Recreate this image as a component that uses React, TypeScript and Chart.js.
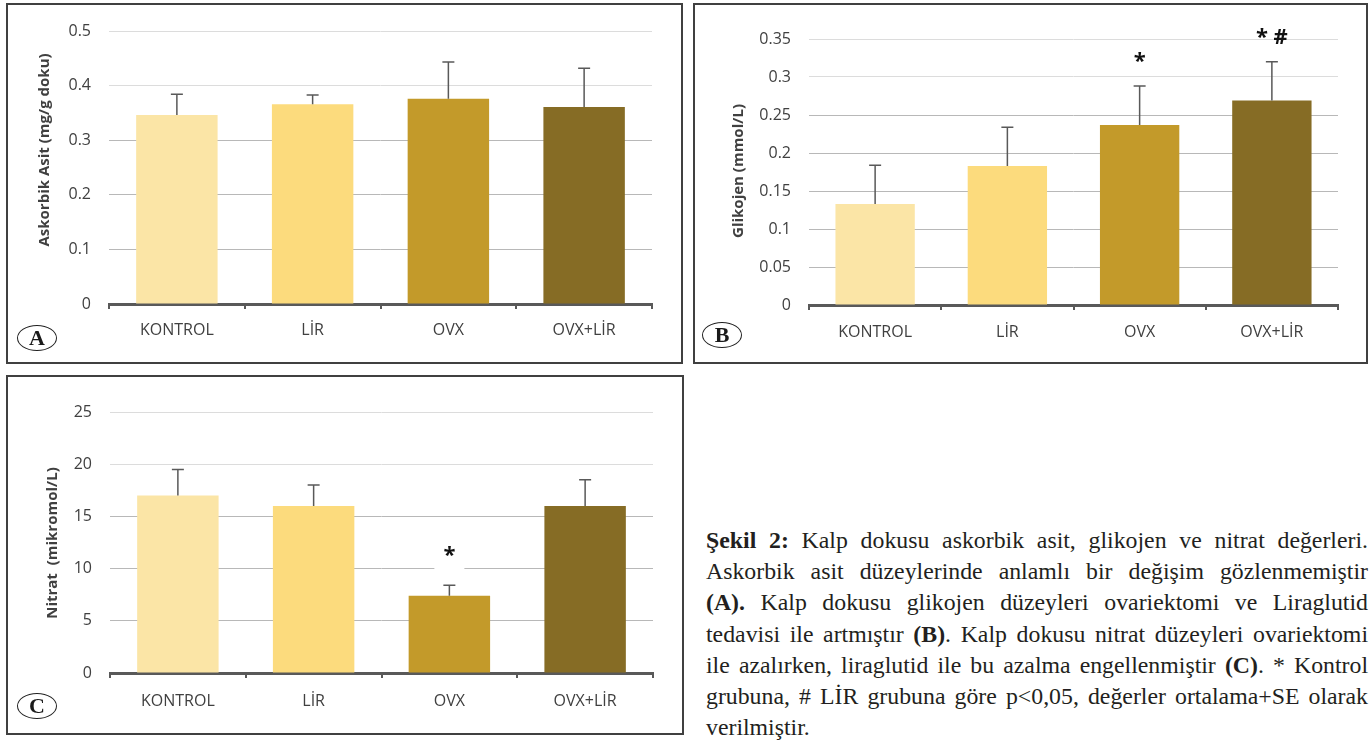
import React, { useEffect, useRef } from 'react';
import { Chart, registerables } from 'chart.js';

Chart.register(...registerables);

// ---------- data ----------
const categories = ['KONTROL', 'LİR', 'OVX', 'OVX+LİR'];
const barColors = ['#FBE5A6', '#FCDB7D', '#C39A2A', '#866C25'];

const askorbikMeans = [0.346, 0.366, 0.376, 0.361];
const askorbikSE = [0.038, 0.017, 0.067, 0.071];
const askorbikTicks = ['0', '0.1', '0.2', '0.3', '0.4', '0.5'];
const askorbikMarks = ['', '', '', ''];

const glikojenMeans = [0.133, 0.183, 0.237, 0.269];
const glikojenSE = [0.051, 0.051, 0.051, 0.051];
const glikojenTicks = ['0', '0.05', '0.1', '0.15', '0.2', '0.25', '0.3', '0.35'];
const glikojenMarks = ['', '', '*', '* #'];

const nitratMeans = [17, 16, 7.4, 16];
const nitratSE = [2.5, 2.0, 1.0, 2.5];
const nitratTicks = ['0', '5', '10', '15', '20', '25'];
const nitratMarks = ['', '', '*', ''];

const FONT = '"Open Sans", "Noto Sans", sans-serif';

// ---------- plugins ----------
const errorBarPlugin = {
  id: 'errorBars',
  afterDatasetsDraw(chart: any, _args: any, opts: any) {
    const { ctx } = chart;
    const meta = chart.getDatasetMeta(0);
    const y = chart.scales.y;
    const data = chart.data.datasets[0].data;
    ctx.save();
    ctx.strokeStyle = opts.color;
    ctx.lineWidth = opts.lineWidth;
    meta.data.forEach((bar: any, i: number) => {
      const top = y.getPixelForValue(data[i] + opts.errors[i]);
      ctx.beginPath();
      ctx.moveTo(bar.x, bar.y);
      ctx.lineTo(bar.x, top);
      ctx.moveTo(bar.x - opts.cap, top);
      ctx.lineTo(bar.x + opts.cap, top);
      ctx.stroke();
    });
    ctx.restore();
  },
};

const marksPlugin = {
  id: 'sigMarks',
  afterDatasetsDraw(chart: any, _args: any, opts: any) {
    const { ctx } = chart;
    const meta = chart.getDatasetMeta(0);
    const y = chart.scales.y;
    const data = chart.data.datasets[0].data;
    ctx.save();
    ctx.font = `bold ${opts.size}px ${FONT}`;
    ctx.textAlign = 'center';
    ctx.textBaseline = 'alphabetic';
    meta.data.forEach((bar: any, i: number) => {
      const txt = opts.marks[i];
      if (!txt) return;
      const base = y.getPixelForValue(data[i] + opts.errors[i]) - opts.gap;
      if (opts.bg) {
        const w = ctx.measureText(txt).width;
        ctx.fillStyle = '#ffffff';
        ctx.fillRect(bar.x - w / 2 - 9, base - 22, w + 18, 32);
      }
      ctx.fillStyle = '#111111';
      ctx.fillText(txt, bar.x, base);
    });
    ctx.restore();
  },
};

const yTitlePlugin = {
  id: 'yTitle',
  afterDraw(chart: any, _args: any, opts: any) {
    const { ctx } = chart;
    ctx.save();
    ctx.translate(opts.x, opts.y);
    ctx.rotate(-Math.PI / 2);
    ctx.font = `bold 15px ${FONT}`;
    ctx.fillStyle = '#404040';
    ctx.textAlign = 'center';
    ctx.textBaseline = 'middle';
    ctx.fillText(opts.text, 0, 0);
    ctx.restore();
  },
};

type PanelProps = {
  left: number; top: number; width: number; height: number;
  plotLeft: number; plotRight: number; plotTop: number; plotBottom: number;
  means: number[]; errors: number[]; tickLabels: string[]; max: number; step: number;
  marks: string[]; markGap: number; markBg: boolean; xPad: number;
  title: string; titleX: number; titleY: number;
  letter: string; letterX: number; letterY: number;
};

function BarPanel(p: PanelProps) {
  const ref = useRef<HTMLCanvasElement | null>(null);
  useEffect(() => {
    if (!ref.current) return;
    const yW = p.plotLeft - p.left;
    const xH = p.height - (p.plotBottom - p.top);
    const padTop = p.plotTop - p.top;
    const padRight = p.left + p.width - p.plotRight;
    const nTicks = p.tickLabels.length;
    const chart = new Chart(ref.current, {
      type: 'bar',
      data: {
        labels: categories,
        datasets: [
          {
            data: p.means,
            backgroundColor: barColors,
            borderWidth: 0,
            barPercentage: 0.6,
            categoryPercentage: 1.0,
          },
        ],
      },
      options: {
        animation: false,
        responsive: false,
        maintainAspectRatio: false,
        layout: { padding: { left: 0, top: padTop, right: padRight, bottom: 0 } },
        plugins: {
          legend: { display: false },
          tooltip: { enabled: false },
          errorBars: { errors: p.errors, color: '#595959', lineWidth: 1.5, cap: 6 },
          sigMarks: { marks: p.marks, errors: p.errors, gap: p.markGap, bg: p.markBg, size: 22 },
          yTitle: { text: p.title, x: p.titleX - p.left, y: p.titleY - p.top },
        } as any,
        scales: {
          x: {
            grid: {
              display: true,
              drawOnChartArea: false,
              drawTicks: true,
              tickLength: 5,
              color: '#595959',
              lineWidth: 2,
              offset: true,
            },
            border: { display: true, color: '#595959', width: 3 },
            ticks: { color: '#404040', font: { family: FONT, size: 16 }, padding: p.xPad },
            afterFit: (s: any) => { s.height = xH; },
          },
          y: {
            min: 0,
            max: p.max,
            ticks: {
              stepSize: p.step,
              padding: 18,
              color: '#404040',
              font: { family: FONT, size: 16 },
              callback: (_v: any, i: number) => p.tickLabels[i],
            },
            grid: {
              drawTicks: false,
              lineWidth: 1,
              color: (c: any) => (c.index >= nTicks - 2 ? '#dcdcdc' : '#b8b8b8'),
            },
            border: { display: false },
            afterFit: (s: any) => { s.width = yW; },
          },
        },
      } as any,
      plugins: [errorBarPlugin, marksPlugin, yTitlePlugin],
    });
    return () => chart.destroy();
  }, []);

  return (
    <>
      <canvas
        ref={ref}
        width={p.width}
        height={p.height}
        style={{ position: 'absolute', left: p.left, top: p.top, width: p.width, height: p.height }}
      />
      <div
        style={{
          position: 'absolute', left: p.left, top: p.top, width: p.width, height: p.height,
          boxSizing: 'border-box', border: '2px solid #404040', pointerEvents: 'none',
        }}
      />
      <div
        style={{
          position: 'absolute', left: p.letterX - 20, top: p.letterY - 13, width: 40, height: 26,
          boxSizing: 'border-box', border: '1.5px solid #222', borderRadius: '50%',
          display: 'flex', alignItems: 'center', justifyContent: 'center',
          fontFamily: '"Liberation Serif", serif', fontWeight: 'bold', fontSize: 22, color: '#1a1a1a',
          lineHeight: 1, background: '#fff',
        }}
      >
        {p.letter}
      </div>
    </>
  );
}

const lineStyle: React.CSSProperties = {
  textAlign: 'justify',
  textAlignLast: 'justify',
  whiteSpace: 'nowrap',
};

export default function App() {
  return (
    <div style={{ position: 'absolute', left: 0, top: 0, width: 1371, height: 740, background: '#fff', overflow: 'hidden' }}>
      <BarPanel
        left={6} top={3} width={677} height={361}
        plotLeft={109} plotRight={652} plotTop={31} plotBottom={304}
        means={askorbikMeans} errors={askorbikSE} tickLabels={askorbikTicks} max={0.5} step={0.1}
        marks={askorbikMarks} markGap={15} markBg={false} xPad={12}
        title="Askorbik Asit (mg/g doku)" titleX={45} titleY={150}
        letter="A" letterX={37} letterY={338}
      />
      <BarPanel
        left={693} top={3} width={675} height={361}
        plotLeft={809} plotRight={1338} plotTop={39} plotBottom={305}
        means={glikojenMeans} errors={glikojenSE} tickLabels={glikojenTicks} max={0.35} step={0.05}
        marks={glikojenMarks} markGap={18} markBg={false} xPad={13}
        title="Glikojen (mmol/L)" titleX={739} titleY={171}
        letter="B" letterX={722} letterY={335}
      />
      <BarPanel
        left={6} top={375} width={678} height={360}
        plotLeft={110} plotRight={653} plotTop={412} plotBottom={673}
        means={nitratMeans} errors={nitratSE} tickLabels={nitratTicks} max={25} step={5}
        marks={nitratMarks} markGap={23} markBg={true} xPad={14}
        title="Nitrat  (mikromol/L)" titleX={53} titleY={543}
        letter="C" letterX={37} letterY={706}
      />
      <div
        style={{
          position: 'absolute', left: 706, top: 525, width: 662,
          fontFamily: '"Liberation Serif", "Times New Roman", serif', fontSize: 23.8, lineHeight: '31.2px',
          color: '#231f20',
        }}
      >
        <div style={lineStyle}><b>Şekil 2:</b> Kalp dokusu askorbik asit, glikojen ve nitrat değerleri.</div>
        <div style={lineStyle}>Askorbik asit düzeylerinde anlamlı bir değişim gözlenmemiştir</div>
        <div style={lineStyle}><b>(A).</b> Kalp dokusu glikojen düzeyleri ovariektomi ve Liraglutid</div>
        <div style={lineStyle}>tedavisi ile artmıştır <b>(B)</b>. Kalp dokusu nitrat düzeyleri ovariektomi</div>
        <div style={lineStyle}>ile azalırken, liraglutid ile bu azalma engellenmiştir <b>(C)</b>. * Kontrol</div>
        <div style={lineStyle}>grubuna, # LİR grubuna göre p&lt;0,05, değerler ortalama+SE olarak</div>
        <div style={{ whiteSpace: 'nowrap' }}>verilmiştir.</div>
      </div>
    </div>
  );
}
